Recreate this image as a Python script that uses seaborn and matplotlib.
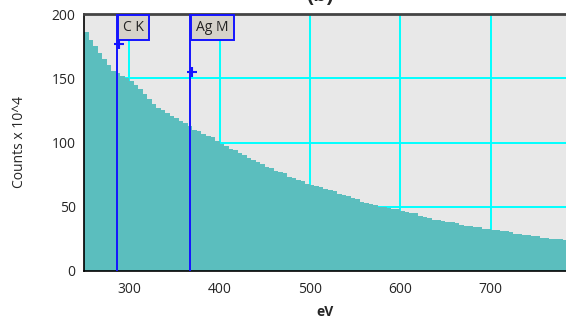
import numpy as np
import pandas as pd
import seaborn as sns
import matplotlib.pyplot as plt
from matplotlib.transforms import blended_transform_factory

# spectrum, 5 eV channels starting at 250 eV
channel_start = list(range(250, 785, 5))
counts = [186, 180, 175, 170, 165, 160, 156, 154, 152, 150,
          148, 145, 142, 138, 134, 130, 127, 125, 123, 121,
          119, 117, 115, 113, 110, 109, 107, 105, 104, 101,
          99, 97, 95, 94, 92, 90, 88, 86, 85, 83,
          81, 80, 78, 77, 76, 73, 72, 71, 70, 68,
          67, 66, 65, 64, 63, 62, 60, 59, 58, 57,
          56, 54, 53, 52, 51, 50, 50, 49, 48, 48,
          47, 46, 45, 45, 43, 42, 41, 40, 40, 39,
          38, 38, 37, 36, 35, 35, 34, 34, 33, 33,
          32, 32, 31, 31, 30, 29, 29, 28, 28, 27,
          27, 26, 26, 25, 25, 25, 24]

# element markers
marker_names = ['C K', 'Ag M']
marker_ev = [286, 367]
cross_ev = [288.5, 369]
cross_y = [177, 154.5]

xticks = [300, 400, 500, 600, 700]
yticks = [0, 50, 100, 150, 200]

spec = pd.DataFrame({'ev': [c + 2.5 for c in channel_start], 'counts': counts})
edges = channel_start + [channel_start[-1] + 5]

sns.set_style('white')
plt.rcParams['font.family'] = ['Open Sans', 'DejaVu Sans']

fig = plt.figure(figsize=(5.66, 3.25), dpi=100)
ax = fig.add_axes([84 / 566, 1 - 271 / 325, 1 - 84 / 566 + 0.001, (271 - 14) / 325])
ax.set_facecolor('#e8e8e8')

ax.set_axisbelow(True)
ax.grid(True, color='#00ffff', linewidth=1.4)

sns.histplot(data=spec, x='ev', weights='counts', bins=edges, element='step',
             fill=True, color='#5bbebe', alpha=1, linewidth=0, ax=ax)

trans = blended_transform_factory(ax.transData, ax.transAxes)
for name, xv, cx, cy in zip(marker_names, marker_ev, cross_ev, cross_y):
    ax.axvline(xv, color='#1414ff', linewidth=1.4, zorder=4)
    ax.plot(cx, cy, marker='+', color='#1414ff', markersize=7,
            markeredgewidth=1.5, zorder=5)
    ax.annotate(name, xy=(xv, 1), xycoords=trans, xytext=(4.6, -4.4),
                textcoords='offset points', ha='left', va='top', fontsize=10,
                color='#222222', zorder=6,
                bbox=dict(boxstyle='square,pad=0.38', facecolor='#d6d2ca',
                          edgecolor='#1414ff', linewidth=1.4))

ax.set_xlim(250, 784)
ax.set_ylim(0, 200)
ax.set_xticks(xticks)
ax.set_yticks(yticks)
ax.tick_params(axis='both', direction='out', length=4, width=1, color='black',
               labelsize=10, pad=2)
ax.tick_params(axis='x', pad=4)
ax.set_xlabel('eV', fontsize=10, fontweight='bold', labelpad=6)
ax.set_ylabel('Counts x 10^4', fontsize=10, labelpad=18)

for side in ['left', 'bottom']:
    ax.spines[side].set_color('black')
    ax.spines[side].set_linewidth(1.2)
ax.spines['top'].set_color('#444444')
ax.spines['top'].set_linewidth(2)
ax.spines['right'].set_visible(False)

fig.text(0.565, 0.982, '(b)', fontsize=15, fontweight='bold', va='bottom', ha='center')

fig.savefig('out.png', dpi=100)
